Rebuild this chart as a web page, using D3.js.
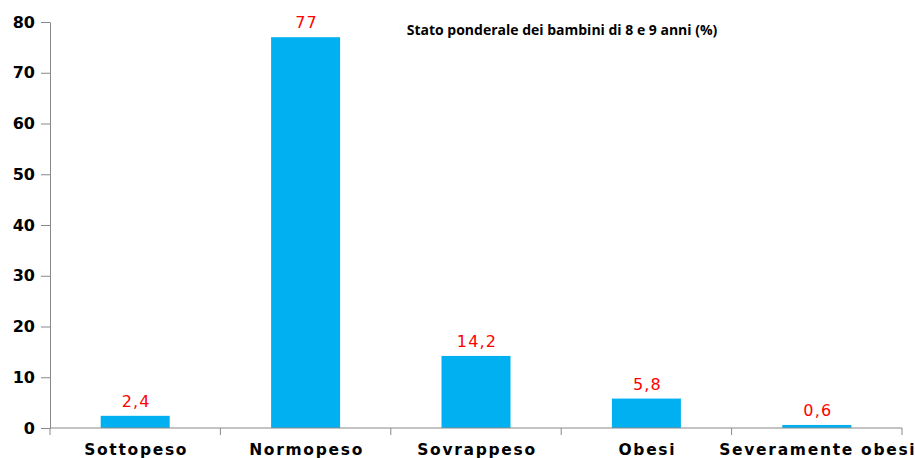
<!DOCTYPE html>
<html lang="it">
<head>
<meta charset="UTF-8">
<script src="https://cdnjs.cloudflare.com/ajax/libs/d3/7.8.5/d3.min.js"></script>
<style>
  body { margin: 0; background: #fff; }
  svg { display: block; }
</style>
</head>
<body>
<div id="plot"></div>
<script>
  // data
  var categories = ["Sottopeso", "Normopeso", "Sovrappeso", "Obesi", "Severamente obesi"];
  var values = [2.4, 77, 14.2, 5.8, 0.6];
  var valueLabels = ["2,4", "77", "14,2", "5,8", "0,6"];
  var yTicks = [0, 10, 20, 30, 40, 50, 60, 70, 80];
  var title = "Stato ponderale dei bambini di 8 e 9 anni (%)";

  var W = 915, H = 458;
  var x0 = 50, x1 = 902, yBase = 428, yTop = 22;

  var svg = d3.select("#plot").append("svg")
    .attr("width", W).attr("height", H);

  var x = d3.scaleBand().domain(categories).range([x0, x1])
    .paddingInner(0.595).paddingOuter(0.2975);
  var y = d3.scaleLinear().domain([0, 80]).range([yBase, yTop]);

  // y axis
  var yAxis = svg.append("g")
    .attr("transform", "translate(" + x0 + ",0)")
    .call(d3.axisLeft(y).tickValues(yTicks).tickSize(9).tickPadding(6).tickSizeOuter(0));
  yAxis.select(".domain").attr("stroke", "#888");
  yAxis.selectAll(".tick line").attr("stroke", "#888");
  yAxis.selectAll(".tick text")
    .attr("fill", "#000")
    .style("font-family", "'DejaVu Sans', Verdana, sans-serif")
    .style("font-weight", "bold")
    .style("font-size", "16px");

  // bars
  svg.append("g").selectAll("rect")
    .data(values)
    .enter().append("rect")
    .attr("x", (d, i) => x(categories[i]))
    .attr("y", d => y(d))
    .attr("width", x.bandwidth())
    .attr("height", d => yBase - y(d))
    .attr("fill", "#00B0F0");

  // value labels
  svg.append("g").selectAll("text")
    .data(values)
    .enter().append("text")
    .attr("x", (d, i) => x(categories[i]) + x.bandwidth() / 2 + 1)
    .attr("y", d => y(d) - 9)
    .attr("text-anchor", "middle")
    .attr("fill", "#FF0000")
    .style("font-family", "'DejaVu Sans', Verdana, sans-serif")
    .style("font-size", "16px")
    .style("letter-spacing", "1.2px")
    .text((d, i) => valueLabels[i]);

  // x axis (ticks between categories)
  var step = x.step();
  var xg = svg.append("g");
  xg.append("line")
    .attr("x1", x0).attr("x2", x1)
    .attr("y1", yBase).attr("y2", yBase)
    .attr("stroke", "#888");
  xg.selectAll("line.tk")
    .data(d3.range(categories.length + 1))
    .enter().append("line")
    .attr("class", "tk")
    .attr("x1", i => x0 + i * step).attr("x2", i => x0 + i * step)
    .attr("y1", yBase).attr("y2", yBase + 7)
    .attr("stroke", "#888");
  xg.selectAll("text")
    .data(categories)
    .enter().append("text")
    .attr("x", d => x(d) + x.bandwidth() / 2 + 1)
    .attr("y", 455)
    .attr("text-anchor", "middle")
    .attr("fill", "#000")
    .style("font-family", "'DejaVu Sans', Verdana, sans-serif")
    .style("font-weight", "bold")
    .style("font-size", "15.5px")
    .style("letter-spacing", "1.7px")
    .text(d => d);

  // title
  svg.append("text")
    .attr("x", 562).attr("y", 35)
    .attr("text-anchor", "middle")
    .attr("fill", "#000")
    .style("font-family", "'Open Sans', 'Liberation Sans', sans-serif")
    .style("font-weight", "bold")
    .style("font-size", "14px")
    .text(title);
</script>
</body>
</html>
